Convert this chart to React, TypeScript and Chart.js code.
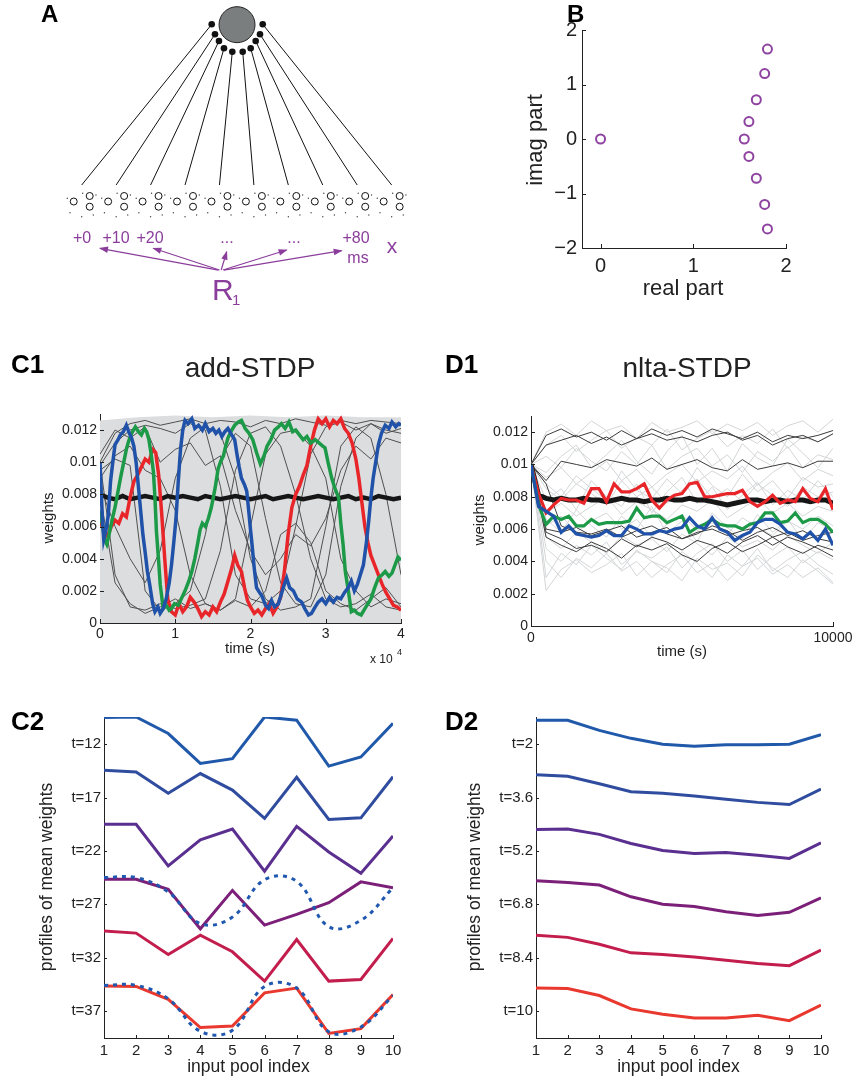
import React, { useEffect, useRef } from 'react';
import { Chart, registerables } from 'chart.js';
Chart.register(...registerables);

const FONT = '"Liberation Sans", Arial, Helvetica, sans-serif';
Chart.defaults.font.family = FONT;

const PAGE_W = 855;
const PAGE_H = 1080;
const YW = 60;
const XH = 40;

type Pt = [number, number];

// ---------------- Panel A (diagram) data, in pool-spacing units ----------------
const poolIndex = [0, 1, 2, 3, 4, 5, 6, 7, 8, 9];
const poolTopY = 0.479;
const neuronPos: Pt = [4.51, 5.134];
const synapseX = [3.775, 3.87, 3.986, 4.131, 4.373, 4.675, 4.907, 5.052, 5.177, 5.256];
const synapseY = [5.145, 4.855, 4.66, 4.448, 4.35, 4.35, 4.448, 4.66, 4.855, 5.145];
const poolCircleDX = [-0.232, 0.232, 0.232];
const poolCircleDY = [0.0, 0.16, -0.151];
const poolSpeckDX = [-0.418, 0.029, 0.415, -0.34, 0.0, 0.337];
const poolSpeckDY = [0.093, 0.238, 0.189, -0.325, -0.441, -0.392];
const arrowFromX = [3.97, 4.0, 4.05, 4.1, 4.13];
const arrowFromY = [-1.99, -1.99, -1.99, -1.99, -1.99];
const arrowToX = [0.531, 2.079, 4.21, 5.952, 7.549];
const arrowToY = [-1.359, -1.359, -1.458, -1.408, -1.429];

// ---------------- Panel B ----------------
const bReal = [0, 1.8, 1.77, 1.68, 1.6, 1.55, 1.6, 1.68, 1.77, 1.8];
const bImag = [0, 1.65, 1.2, 0.72, 0.32, 0, -0.32, -0.72, -1.2, -1.65];
const bXTicks = [0, 1, 2];
const bYTicks = [-2, -1, 0, 1, 2];

// ---------------- Panel C1 (add-STDP), time in units of 1e4 s ----------------
const c1XTicks = [0, 1, 2, 3, 4];
const c1YTicks = [0, 0.002, 0.004, 0.006, 0.008, 0.01, 0.012];
const c1Blue: Pt[] = [[0,0.0100],[0.03,0.0067],[0.05,0.0052],[0.08,0.0058],[0.11,0.0067],[0.14,0.0088],[0.17,0.0100],[0.2,0.0111],[0.24,0.0114],[0.27,0.0117],[0.31,0.0119],[0.35,0.0123],[0.39,0.0118],[0.42,0.0115],[0.45,0.0110],[0.48,0.0100],[0.51,0.0085],[0.54,0.0070],[0.57,0.0055],[0.6,0.0044],[0.63,0.0032],[0.66,0.0024],[0.7,0.0012],[0.73,0.0007],[0.77,0.0010],[0.8,0.0006],[0.84,0.0009],[0.88,0.0015],[0.92,0.0025],[0.95,0.0036],[0.98,0.0050],[1.01,0.0065],[1.04,0.0088],[1.07,0.0108],[1.1,0.0120],[1.13,0.0126],[1.17,0.0124],[1.22,0.0127],[1.26,0.0121],[1.31,0.0123],[1.36,0.0120],[1.4,0.0124],[1.45,0.0119],[1.5,0.0121],[1.54,0.0118],[1.58,0.0120],[1.62,0.0116],[1.66,0.0119],[1.7,0.0121],[1.75,0.0117],[1.79,0.0114],[1.82,0.0105],[1.85,0.0097],[1.88,0.0090],[1.92,0.0086],[1.95,0.0082],[1.98,0.0068],[2.0,0.0058],[2.02,0.0049],[2.05,0.0034],[2.08,0.0022],[2.12,0.0019],[2.15,0.0017],[2.2,0.0011],[2.24,0.0009],[2.28,0.0014],[2.32,0.0010],[2.37,0.0012],[2.41,0.0018],[2.45,0.0024],[2.48,0.0028],[2.52,0.0022],[2.57,0.0020],[2.62,0.0015],[2.68,0.0013],[2.72,0.0009],[2.77,0.0005],[2.81,0.0006],[2.86,0.0010],[2.9,0.0013],[2.95,0.0015],[3.0,0.0012],[3.05,0.0016],[3.1,0.0013],[3.15,0.0016],[3.2,0.0015],[3.25,0.0019],[3.3,0.0022],[3.34,0.0026],[3.38,0.0020],[3.42,0.0024],[3.46,0.0030],[3.5,0.0036],[3.54,0.0050],[3.57,0.0063],[3.6,0.0078],[3.63,0.0090],[3.67,0.0102],[3.7,0.0111],[3.74,0.0118],[3.79,0.0123],[3.84,0.0121],[3.88,0.0125],[3.93,0.0122],[3.97,0.0124],[4.0,0.0123]];
const c1Green: Pt[] = [[0,0.0070],[0.03,0.0062],[0.06,0.0052],[0.09,0.0049],[0.12,0.0055],[0.16,0.0064],[0.2,0.0072],[0.24,0.0082],[0.28,0.0092],[0.32,0.0101],[0.35,0.0108],[0.38,0.0113],[0.42,0.0118],[0.47,0.0122],[0.51,0.0119],[0.55,0.0117],[0.59,0.0121],[0.62,0.0119],[0.65,0.0114],[0.68,0.0105],[0.71,0.0094],[0.73,0.0078],[0.75,0.0057],[0.78,0.0038],[0.8,0.0024],[0.84,0.0009],[0.88,0.0011],[0.92,0.0008],[0.95,0.0009],[0.99,0.0012],[1.04,0.0011],[1.09,0.0016],[1.13,0.0020],[1.18,0.0026],[1.22,0.0032],[1.26,0.0040],[1.3,0.0050],[1.33,0.0058],[1.36,0.0062],[1.4,0.0060],[1.44,0.0065],[1.48,0.0072],[1.53,0.0084],[1.57,0.0096],[1.6,0.0100],[1.64,0.0104],[1.67,0.0110],[1.7,0.0115],[1.74,0.0119],[1.79,0.0123],[1.84,0.0125],[1.88,0.0126],[1.93,0.0121],[1.98,0.0118],[2.03,0.0114],[2.08,0.0106],[2.13,0.0099],[2.18,0.0104],[2.22,0.0110],[2.27,0.0114],[2.32,0.0120],[2.37,0.0122],[2.41,0.0124],[2.46,0.0121],[2.51,0.0125],[2.56,0.0119],[2.6,0.0120],[2.65,0.0117],[2.7,0.0114],[2.75,0.0116],[2.8,0.0112],[2.86,0.0114],[2.91,0.0112],[2.96,0.0110],[2.99,0.0109],[3.03,0.0100],[3.08,0.0090],[3.12,0.0084],[3.17,0.0078],[3.2,0.0062],[3.23,0.0049],[3.26,0.0032],[3.3,0.0020],[3.34,0.0007],[3.38,0.0008],[3.42,0.0006],[3.47,0.0005],[3.52,0.0009],[3.56,0.0012],[3.6,0.0015],[3.65,0.0022],[3.7,0.0028],[3.75,0.0030],[3.79,0.0032],[3.84,0.0029],[3.88,0.0031],[3.92,0.0036],[3.96,0.0041],[4.0,0.0039]];
const c1Red: Pt[] = [[0,0.0063],[0.05,0.0058],[0.1,0.0054],[0.15,0.0060],[0.2,0.0064],[0.25,0.0062],[0.3,0.0068],[0.35,0.0066],[0.4,0.0078],[0.45,0.0088],[0.5,0.0092],[0.55,0.0097],[0.6,0.0102],[0.65,0.0100],[0.7,0.0108],[0.74,0.0106],[0.78,0.0092],[0.82,0.0068],[0.86,0.0040],[0.9,0.0015],[0.95,0.0007],[1.0,0.0005],[1.05,0.0012],[1.1,0.0007],[1.15,0.0010],[1.2,0.0016],[1.25,0.0013],[1.3,0.0009],[1.35,0.0004],[1.4,0.0007],[1.45,0.0005],[1.5,0.0010],[1.55,0.0007],[1.6,0.0013],[1.65,0.0018],[1.7,0.0026],[1.75,0.0034],[1.79,0.0042],[1.83,0.0036],[1.88,0.0032],[1.92,0.0022],[1.96,0.0014],[2.0,0.0010],[2.05,0.0006],[2.1,0.0008],[2.15,0.0005],[2.2,0.0009],[2.25,0.0012],[2.3,0.0006],[2.35,0.0010],[2.4,0.0016],[2.45,0.0032],[2.5,0.0055],[2.55,0.0072],[2.6,0.0080],[2.65,0.0085],[2.7,0.0092],[2.75,0.0098],[2.8,0.0110],[2.85,0.0120],[2.9,0.0127],[2.95,0.0124],[3.0,0.0127],[3.05,0.0122],[3.1,0.0126],[3.15,0.0124],[3.2,0.0127],[3.25,0.0121],[3.3,0.0118],[3.35,0.0112],[3.4,0.0102],[3.44,0.0090],[3.48,0.0075],[3.52,0.0060],[3.56,0.0050],[3.6,0.0042],[3.65,0.0036],[3.7,0.0030],[3.75,0.0024],[3.8,0.0019],[3.85,0.0015],[3.9,0.0011],[3.95,0.0010],[4.0,0.0008]];
const c1BlackT = [0,0.1,0.2,0.3,0.4,0.5,0.6,0.7,0.8,0.9,1.0,1.1,1.2,1.3,1.4,1.5,1.6,1.7,1.8,1.9,2.0,2.1,2.2,2.3,2.4,2.5,2.6,2.7,2.8,2.9,3.0,3.1,3.2,3.3,3.4,3.5,3.6,3.7,3.8,3.9,4.0];
const c1Black = [0.0080,0.0078,0.0077,0.0079,0.0077,0.0078,0.0079,0.0078,0.0077,0.0079,0.0078,0.0079,0.0078,0.0077,0.0079,0.0078,0.0077,0.0078,0.0079,0.0078,0.0077,0.0078,0.0079,0.0077,0.0078,0.0079,0.0078,0.0077,0.0078,0.0079,0.0078,0.0077,0.0078,0.0079,0.0077,0.0078,0.0077,0.0079,0.0078,0.0077,0.0078];
const c1GrayT = [0,0.2,0.4,0.6,0.8,1.0,1.2,1.4,1.6,1.8,2.0,2.2,2.4,2.6,2.8,3.0,3.2,3.4,3.6,3.8,4.0];
const c1Dark1 = [0.0100,0.0118,0.0124,0.0126,0.0123,0.0125,0.0127,0.0124,0.0126,0.0125,0.0122,0.0126,0.0124,0.0127,0.0125,0.0123,0.0126,0.0124,0.0126,0.0125,0.0124];
const c1Dark2 = [0.0098,0.0112,0.0120,0.0123,0.0121,0.0118,0.0124,0.0120,0.0085,0.0030,0.0015,0.0012,0.0020,0.0060,0.0105,0.0122,0.0125,0.0120,0.0124,0.0118,0.0121];
const c1Dark3 = [0.0100,0.0030,0.0010,0.0008,0.0012,0.0009,0.0011,0.0015,0.0045,0.0095,0.0118,0.0122,0.0110,0.0080,0.0040,0.0015,0.0010,0.0012,0.0018,0.0010,0.0008];
const c1Dark4 = [0.0095,0.0102,0.0098,0.0020,0.0008,0.0012,0.0020,0.0055,0.0102,0.0118,0.0110,0.0065,0.0025,0.0012,0.0010,0.0030,0.0085,0.0115,0.0124,0.0120,0.0118];
const c1Dark5 = [0.0090,0.0104,0.0110,0.0095,0.0090,0.0070,0.0030,0.0012,0.0008,0.0015,0.0060,0.0105,0.0118,0.0120,0.0110,0.0090,0.0040,0.0020,0.0010,0.0015,0.0012];
const c1Dark6 = [0.0080,0.0025,0.0012,0.0006,0.0010,0.0015,0.0009,0.0012,0.0008,0.0014,0.0010,0.0020,0.0055,0.0062,0.0050,0.0020,0.0012,0.0008,0.0015,0.0022,0.0010];
const c1Dark7 = [0.0105,0.0120,0.0115,0.0122,0.0100,0.0108,0.0112,0.0098,0.0104,0.0070,0.0045,0.0030,0.0040,0.0055,0.0048,0.0065,0.0095,0.0110,0.0102,0.0115,0.0112];
const c1Dark8 = [0.0085,0.0060,0.0040,0.0025,0.0045,0.0090,0.0115,0.0122,0.0118,0.0090,0.0040,0.0015,0.0008,0.0010,0.0015,0.0060,0.0110,0.0122,0.0115,0.0080,0.0030];
const c1BandT = [0, 0.5, 1, 1.5, 2, 2.5, 3, 3.5, 4];
const c1BandTop = [0.0126, 0.0128, 0.0129, 0.0128, 0.0129, 0.0128, 0.0129, 0.0128, 0.0128];

// ---------------- Panel D1 (nlta-STDP) ----------------
const d1XTicks = [0, 10000];
const d1YTicks = [0, 0.002, 0.004, 0.006, 0.008, 0.01, 0.012];
const d1T = [0,250,500,750,1000,1250,1500,1750,2000,2250,2500,2750,3000,3250,3500,3750,4000,4250,4500,4750,5000,5250,5500,5750,6000,6250,6500,6750,7000,7250,7500,7750,8000,8250,8500,8750,9000,9250,9500,9750,10000];
const d1Red = [0.0100,0.0082,0.0070,0.0075,0.0079,0.0078,0.0078,0.0076,0.0085,0.0085,0.0077,0.0088,0.0083,0.0083,0.0085,0.0088,0.0078,0.0073,0.0078,0.0081,0.0082,0.0088,0.0089,0.0080,0.0080,0.0081,0.0082,0.0082,0.0084,0.0077,0.0074,0.0077,0.0081,0.0076,0.0078,0.0077,0.0085,0.0079,0.0077,0.0085,0.0072];
const d1Green = [0.0100,0.0075,0.0063,0.0068,0.0066,0.0068,0.0062,0.0062,0.0066,0.0063,0.0064,0.0064,0.0064,0.0065,0.0073,0.0067,0.0068,0.0068,0.0064,0.0066,0.0068,0.0058,0.0061,0.0063,0.0066,0.0063,0.0062,0.0062,0.0060,0.0063,0.0064,0.0070,0.0070,0.0064,0.0065,0.0070,0.0064,0.0066,0.0066,0.0063,0.0058];
const d1Blue = [0.0100,0.0074,0.0071,0.0068,0.0058,0.0062,0.0057,0.0056,0.0055,0.0056,0.0059,0.0056,0.0056,0.0062,0.0060,0.0057,0.0057,0.0059,0.0058,0.0060,0.0061,0.0067,0.0062,0.0060,0.0067,0.0060,0.0058,0.0053,0.0056,0.0058,0.0064,0.0066,0.0066,0.0063,0.0058,0.0057,0.0054,0.0058,0.0053,0.0060,0.0050];
const d1Black = [0.0100,0.0081,0.0079,0.0078,0.0079,0.0078,0.0078,0.0079,0.0078,0.0078,0.0077,0.0078,0.0079,0.0078,0.0078,0.0077,0.0078,0.0078,0.0079,0.0078,0.0078,0.0079,0.0078,0.0078,0.0077,0.0076,0.0075,0.0076,0.0077,0.0078,0.0078,0.0077,0.0078,0.0078,0.0077,0.0078,0.0078,0.0077,0.0078,0.0078,0.0076];
const d1GrayT = [0,500,1000,1500,2000,2500,3000,3500,4000,4500,5000,5500,6000,6500,7000,7500,8000,8500,9000,9500,10000];
const d1Dark = [
  [0.010,0.0118,0.0122,0.0117,0.0120,0.0115,0.0121,0.0116,0.0122,0.0118,0.0121,0.0117,0.0122,0.0119,0.0116,0.0120,0.0114,0.0118,0.0116,0.0118,0.0121],
  [0.010,0.0112,0.0115,0.0118,0.0113,0.0117,0.0112,0.0116,0.0119,0.0115,0.0117,0.0114,0.0118,0.0120,0.0115,0.0118,0.0112,0.0116,0.0118,0.0114,0.0119],
  [0.010,0.0090,0.0102,0.0100,0.0098,0.0103,0.0101,0.0099,0.0104,0.0097,0.0100,0.0103,0.0098,0.0096,0.0103,0.0097,0.0099,0.0101,0.0098,0.0102,0.0102],
  [0.010,0.0058,0.0054,0.0048,0.0050,0.0046,0.0054,0.0049,0.0055,0.0052,0.0047,0.0053,0.0050,0.0045,0.0052,0.0056,0.0050,0.0055,0.0052,0.0048,0.0043],
  [0.010,0.0060,0.0058,0.0061,0.0056,0.0059,0.0062,0.0055,0.0058,0.0061,0.0054,0.0057,0.0062,0.0059,0.0053,0.0058,0.0061,0.0056,0.0059,0.0054,0.0052],
  [0.010,0.0055,0.0050,0.0046,0.0052,0.0048,0.0042,0.0050,0.0047,0.0051,0.0044,0.0040,0.0048,0.0052,0.0046,0.0050,0.0055,0.0049,0.0045,0.0050,0.0047],
  [0.010,0.0088,0.0062,0.0058,0.0057,0.0060,0.0055,0.0059,0.0062,0.0057,0.0054,0.0058,0.0060,0.0056,0.0059,0.0061,0.0055,0.0058,0.0053,0.0056,0.0058],
];
const d1Light = [
  [0.010,0.0120,0.0125,0.0118,0.0127,0.0121,0.0124,0.0116,0.0126,0.0120,0.0123,0.0127,0.0119,0.0125,0.0121,0.0126,0.0118,0.0124,0.0127,0.0120,0.0128],
  [0.010,0.0112,0.0118,0.0108,0.0115,0.0121,0.0110,0.0117,0.0112,0.0122,0.0109,0.0116,0.0121,0.0111,0.0118,0.0113,0.0122,0.0110,0.0117,0.0114,0.0119],
  [0.010,0.0105,0.0098,0.0110,0.0102,0.0096,0.0108,0.0100,0.0112,0.0097,0.0105,0.0110,0.0099,0.0106,0.0095,0.0108,0.0102,0.0111,0.0098,0.0106,0.0103],
  [0.010,0.0092,0.0098,0.0088,0.0095,0.0102,0.0090,0.0097,0.0086,0.0094,0.0100,0.0089,0.0096,0.0091,0.0099,0.0087,0.0095,0.0101,0.0090,0.0097,0.0093],
  [0.010,0.0085,0.0078,0.0088,0.0082,0.0075,0.0090,0.0080,0.0086,0.0076,0.0084,0.0091,0.0079,0.0085,0.0077,0.0088,0.0081,0.0074,0.0086,0.0080,0.0083],
  [0.010,0.0070,0.0076,0.0068,0.0074,0.0080,0.0069,0.0077,0.0072,0.0066,0.0075,0.0071,0.0078,0.0067,0.0073,0.0079,0.0070,0.0076,0.0068,0.0074,0.0071],
  [0.010,0.0062,0.0068,0.0058,0.0065,0.0070,0.0060,0.0066,0.0055,0.0063,0.0069,0.0059,0.0064,0.0057,0.0067,0.0061,0.0056,0.0065,0.0060,0.0068,0.0062],
  [0.010,0.0055,0.0048,0.0058,0.0052,0.0045,0.0056,0.0050,0.0054,0.0046,0.0057,0.0051,0.0044,0.0055,0.0049,0.0053,0.0047,0.0056,0.0050,0.0045,0.0052],
  [0.010,0.0048,0.0040,0.0050,0.0044,0.0052,0.0038,0.0046,0.0042,0.0049,0.0036,0.0045,0.0051,0.0040,0.0047,0.0035,0.0043,0.0049,0.0039,0.0046,0.0041],
  [0.010,0.0040,0.0030,0.0042,0.0036,0.0045,0.0034,0.0040,0.0030,0.0038,0.0044,0.0033,0.0039,0.0028,0.0037,0.0042,0.0032,0.0038,0.0030,0.0036,0.0027],
  [0.010,0.0030,0.0045,0.0038,0.0050,0.0042,0.0035,0.0047,0.0040,0.0033,0.0046,0.0039,0.0030,0.0044,0.0037,0.0048,0.0034,0.0041,0.0046,0.0038,0.0032],
  [0.010,0.0078,0.0085,0.0072,0.0090,0.0080,0.0074,0.0088,0.0070,0.0083,0.0092,0.0076,0.0086,0.0072,0.0081,0.0089,0.0075,0.0084,0.0078,0.0090,0.0080],
  [0.010,0.0095,0.0105,0.0112,0.0098,0.0106,0.0115,0.0102,0.0094,0.0108,0.0118,0.0100,0.0110,0.0096,0.0113,0.0104,0.0099,0.0116,0.0107,0.0098,0.0110],
  [0.010,0.0066,0.0058,0.0072,0.0062,0.0055,0.0068,0.0060,0.0074,0.0057,0.0065,0.0052,0.0070,0.0061,0.0054,0.0069,0.0058,0.0066,0.0053,0.0064,0.0059],
  [0.010,0.0088,0.0080,0.0093,0.0085,0.0078,0.0096,0.0084,0.0079,0.0091,0.0082,0.0098,0.0087,0.0080,0.0094,0.0083,0.0090,0.0079,0.0092,0.0086,0.0088],
  [0.010,0.0022,0.0035,0.0041,0.0033,0.0038,0.0045,0.0031,0.0040,0.0036,0.0028,0.0042,0.0035,0.0039,0.0031,0.0044,0.0036,0.0030,0.0041,0.0034,0.0026],
];

// ---------------- Panels C2 / D2 (profiles, stacked with offsets) ----------------
const poolIdx = [1, 2, 3, 4, 5, 6, 7, 8, 9, 10];
const profileTickPos = [0, 1, 2, 3, 4, 5];
const c2TickLabels = ['t=37', 't=32', 't=27', 't=22', 't=17', 't=12'];
const d2TickLabels = ['t=10', 't=8.4', 't=6.8', 't=5.2', 't=3.6', 't=2'];
const profileColors = ['#2058aa', '#2f4c9f', '#5a2f90', '#7b1f78', '#c21d4c', '#e9382e'];
const c2Profiles = [
  [5.5, 5.51, 5.2, 4.64, 4.73, 5.51, 5.45, 4.59, 4.76, 5.39],
  [4.51, 4.48, 4.08, 4.45, 4.14, 3.61, 4.38, 3.59, 3.62, 4.39],
  [3.5, 3.5, 2.72, 3.21, 3.41, 2.62, 3.46, 2.98, 2.58, 3.28],
  [2.47, 2.47, 2.28, 1.54, 2.26, 1.61, 1.81, 2.03, 2.42, 2.31],
  [1.5, 1.46, 1.06, 1.42, 1.11, 0.56, 1.34, 0.56, 0.59, 1.36],
  [0.47, 0.46, 0.22, -0.31, -0.28, 0.34, 0.43, -0.42, -0.33, 0.31],
];
const c2Dotted27 = [2.5, 2.5, 2.23, 1.64, 1.76, 2.46, 2.43, 1.58, 1.7, 2.31];
const c2Dotted37 = [0.48, 0.48, 0.23, -0.38, -0.36, 0.46, 0.43, -0.39, -0.3, 0.29];
const d2Profiles = [
  [5.45, 5.45, 5.26, 5.11, 5.0, 4.96, 4.99, 4.99, 5.0, 5.18],
  [4.43, 4.4, 4.26, 4.11, 4.08, 4.03, 3.97, 3.91, 3.87, 4.16],
  [3.4, 3.41, 3.31, 3.14, 3.01, 2.95, 2.97, 2.92, 2.86, 3.15],
  [2.44, 2.41, 2.36, 2.14, 2.0, 1.96, 1.86, 1.79, 1.85, 2.12],
  [1.42, 1.38, 1.25, 1.09, 1.06, 1.01, 0.95, 0.89, 0.85, 1.14],
  [0.43, 0.42, 0.29, 0.04, -0.06, -0.13, -0.13, -0.08, -0.18, 0.11],
];

// ---------------- helpers ----------------
type Area = { left: number; top: number; right: number; bottom: number };
const padFor = (a: Area, axes = true) =>
  axes
    ? { left: a.left - YW, top: a.top, right: PAGE_W - a.right, bottom: PAGE_H - a.bottom - XH }
    : { left: a.left, top: a.top, right: PAGE_W - a.right, bottom: PAGE_H - a.bottom };

const zipXY = (xs: number[], ys: number[]) => xs.map((x, i) => ({ x, y: ys[i] }));
const pairsXY = (p: Pt[]) => p.map(([x, y]) => ({ x, y }));

const lineDs = (data: any[], color: string, width: number, extra: any = {}) => ({
  data,
  showLine: true,
  borderColor: color,
  backgroundColor: color,
  borderWidth: width,
  pointRadius: 0,
  pointHoverRadius: 0,
  fill: false,
  tension: 0,
  ...extra,
});

const minusFmt = (v: number) => (v < 0 ? '\u2212' + Math.abs(v) : String(v));
const decFmt = (v: number) => String(parseFloat(Number(v).toFixed(4)));

function axisX(min: number, max: number, ticks: number[], size: number, pad: number, fmt: (v: number, i: number) => string) {
  return {
    type: 'linear', position: 'bottom', min, max,
    grid: { display: false, drawTicks: false },
    border: { display: true, color: '#222', width: 1 },
    ticks: { font: { size, family: FONT }, color: '#222', padding: pad, maxRotation: 0, minRotation: 0, autoSkip: false, callback: (v: any, i: number) => fmt(Number(v), i) },
    afterBuildTicks: (s: any) => { s.ticks = ticks.map((value) => ({ value })); },
    afterFit: (s: any) => { s.height = XH; s.paddingLeft = 0; s.paddingRight = 0; s.paddingTop = 0; s.paddingBottom = 0; },
  };
}
function axisY(min: number, max: number, ticks: number[], size: number, pad: number, fmt: (v: number, i: number) => string) {
  return {
    type: 'linear', position: 'left', min, max,
    grid: { display: false, drawTicks: false },
    border: { display: true, color: '#222', width: 1 },
    ticks: { font: { size, family: FONT }, color: '#222', padding: pad, autoSkip: false, callback: (v: any, i: number) => fmt(Number(v), i) },
    afterBuildTicks: (s: any) => { s.ticks = ticks.map((value) => ({ value })); },
    afterFit: (s: any) => { s.width = YW; s.paddingLeft = 0; s.paddingRight = 0; s.paddingTop = 0; s.paddingBottom = 0; },
  };
}

type TextItem = { t: string; x: number; y: number; size: number; bold?: boolean; color?: string; align?: CanvasTextAlign; base?: CanvasTextBaseline; rot?: number };
const textPlugin = (items: TextItem[]) => ({
  id: 'texts',
  afterDraw(chart: any) {
    const ctx = chart.ctx as CanvasRenderingContext2D;
    for (const it of items) {
      ctx.save();
      ctx.translate(it.x, it.y);
      if (it.rot) ctx.rotate(it.rot);
      ctx.font = `${it.bold ? 'bold ' : ''}${it.size}px ${FONT}`;
      ctx.fillStyle = it.color || '#111';
      ctx.textAlign = it.align || 'center';
      ctx.textBaseline = it.base || 'alphabetic';
      ctx.fillText(it.t, 0, 0);
      ctx.restore();
    }
  },
});

const inTicks = (len: number) => ({
  id: 'inTicks',
  afterDraw(chart: any) {
    const { ctx, chartArea } = chart;
    ctx.save();
    ctx.strokeStyle = '#222';
    ctx.lineWidth = 1;
    for (const id of ['x', 'y']) {
      const s = chart.scales[id];
      if (!s) continue;
      for (const t of s.ticks) {
        const p = Math.round(s.getPixelForValue(t.value)) + 0.5;
        ctx.beginPath();
        if (id === 'x') { ctx.moveTo(p, chartArea.bottom); ctx.lineTo(p, chartArea.bottom - len); }
        else { ctx.moveTo(chartArea.left, p); ctx.lineTo(chartArea.left + len, p); }
        ctx.stroke();
      }
    }
    ctx.restore();
  },
});

const arrowHeads = {
  id: 'arrowHeads',
  afterDatasetsDraw(chart: any) {
    const ctx = chart.ctx as CanvasRenderingContext2D;
    chart.data.datasets.forEach((ds: any, i: number) => {
      if (!ds.arrow) return;
      const pts = chart.getDatasetMeta(i).data;
      const a = pts[pts.length - 2], b = pts[pts.length - 1];
      const ang = Math.atan2(b.y - a.y, b.x - a.x);
      ctx.save();
      ctx.translate(b.x, b.y);
      ctx.rotate(ang);
      ctx.beginPath();
      ctx.moveTo(1, 0);
      ctx.lineTo(-8, -3.2);
      ctx.lineTo(-8, 3.2);
      ctx.closePath();
      ctx.fillStyle = ds.borderColor;
      ctx.fill();
      ctx.restore();
    });
  },
};

const baseOptions = (padding: any, scales: any) => ({
  responsive: false,
  animation: false,
  events: [],
  layout: { padding, autoPadding: false },
  plugins: { legend: { display: false }, tooltip: { enabled: false }, title: { display: false } },
  scales,
});

const PURPLE = '#8b3d9c';

// ---------------- chart configs ----------------
function cfgA() {
  const area: Area = { left: 0, top: 0, right: 430, bottom: 300 };
  const unit = 34.44;
  const xMin = -81.7 / unit;
  const yMax = 201.5 / unit;
  const datasets: any[] = [];
  datasets.push({ data: [{ x: neuronPos[0], y: neuronPos[1] }], pointRadius: 18, backgroundColor: '#7b7e7f', borderColor: '#222', borderWidth: 1 });
  datasets.push({ data: zipXY(synapseX, synapseY), pointRadius: 3.3, backgroundColor: '#111', borderColor: '#111', borderWidth: 0 });
  const circles: any[] = [];
  const specks: any[] = [];
  poolIndex.forEach((p) => {
    poolCircleDX.forEach((dx, k) => circles.push({ x: p + dx, y: poolCircleDY[k] }));
    poolSpeckDX.forEach((dx, k) => specks.push({ x: p + dx, y: poolSpeckDY[k] }));
  });
  datasets.push({ data: circles, pointRadius: 3.5, backgroundColor: '#fff', borderColor: '#111', borderWidth: 1 });
  datasets.push({ data: specks, pointRadius: 0.7, backgroundColor: '#444', borderColor: '#444', borderWidth: 0 });
  poolIndex.forEach((p, i) => {
    datasets.push(lineDs([{ x: synapseX[i], y: synapseY[i] }, { x: p, y: poolTopY }], '#111', 1));
  });
  arrowToX.forEach((tx, i) => {
    datasets.push({ ...lineDs([{ x: arrowFromX[i], y: arrowFromY[i] }, { x: tx, y: arrowToY[i] }], PURPLE, 1.2), arrow: true });
  });
  const texts: TextItem[] = [
    { t: 'A', x: 41, y: 22, size: 24, bold: true, align: 'left', color: '#000' },
    { t: '+0', x: 82, y: 243, size: 16, color: PURPLE },
    { t: '+10', x: 116, y: 243, size: 16, color: PURPLE },
    { t: '+20', x: 150, y: 243, size: 16, color: PURPLE },
    { t: '...', x: 227, y: 243, size: 16, color: PURPLE },
    { t: '...', x: 294, y: 243, size: 16, color: PURPLE },
    { t: '+80', x: 356, y: 243, size: 16, color: PURPLE },
    { t: 'x', x: 392, y: 253, size: 21, color: PURPLE },
    { t: 'ms', x: 358, y: 263, size: 16, color: PURPLE },
    { t: 'R', x: 212, y: 300, size: 30, align: 'left', color: PURPLE },
    { t: '1', x: 232, y: 305, size: 15, align: 'left', color: PURPLE },
  ];
  return {
    type: 'scatter',
    data: { datasets },
    options: baseOptions(padFor(area, false), {
      x: { type: 'linear', display: false, min: xMin, max: xMin + 430 / unit },
      y: { type: 'linear', display: false, min: yMax - 300 / unit, max: yMax },
    }),
    plugins: [arrowHeads, textPlugin(texts)],
  };
}

function cfgB() {
  const area: Area = { left: 582, top: 30, right: 786, bottom: 248 };
  const texts: TextItem[] = [
    { t: 'B', x: 567, y: 22, size: 24, bold: true, align: 'left', color: '#000' },
    { t: 'imag part', x: 536, y: 140, size: 22, rot: -Math.PI / 2, base: 'middle', color: '#222' },
    { t: 'real part', x: 683, y: 295, size: 22, color: '#222' },
  ];
  return {
    type: 'scatter',
    data: { datasets: [{ data: zipXY(bReal, bImag), pointRadius: 4.5, borderWidth: 2, borderColor: '#8e44a0', backgroundColor: 'rgba(0,0,0,0)' }] },
    options: baseOptions(padFor(area), {
      x: axisX(-0.2, 2, bXTicks, 20, 6, minusFmt),
      y: axisY(-2, 2, bYTicks, 20, 5, minusFmt),
    }),
    plugins: [inTicks(4), textPlugin(texts)],
  };
}

function cfgC1() {
  const area: Area = { left: 100, top: 414, right: 401, bottom: 623 };
  const darks = [c1Dark1, c1Dark2, c1Dark3, c1Dark4, c1Dark5, c1Dark6, c1Dark7, c1Dark8];
  const datasets: any[] = [
    lineDs(pairsXY(c1Blue), '#1f52a8', 3.5),
    lineDs(pairsXY(c1Green), '#1d9a48', 3.5),
    lineDs(pairsXY(c1Red), '#e8262a', 3.5),
    lineDs(zipXY(c1BlackT, c1Black), '#161616', 4.5),
    ...darks.map((d) => lineDs(zipXY(c1GrayT, d), '#505050', 1)),
    lineDs(zipXY(c1BandT, c1BandTop), '#dcdddf', 0, { fill: 'origin', backgroundColor: '#dcdddf' }),
  ];
  const texts: TextItem[] = [
    { t: 'C1', x: 11, y: 373, size: 26, bold: true, align: 'left', color: '#000' },
    { t: 'add-STDP', x: 250, y: 377, size: 28, color: '#222' },
    { t: 'weights', x: 49, y: 518, size: 15, rot: -Math.PI / 2, base: 'middle', color: '#222' },
    { t: 'time (s)', x: 250, y: 653, size: 15, color: '#222' },
    { t: 'x 10', x: 370, y: 663, size: 12, align: 'left', color: '#222' },
    { t: '4', x: 397, y: 655, size: 9, align: 'left', color: '#222' },
  ];
  return {
    type: 'scatter',
    data: { datasets },
    options: baseOptions(padFor(area), {
      x: axisX(0, 4, c1XTicks, 14, 3, (v) => String(v)),
      y: axisY(0, 0.013, c1YTicks, 14, 3, decFmt),
    }),
    plugins: [inTicks(4), textPlugin(texts)],
  };
}

function cfgD1() {
  const area: Area = { left: 531, top: 416, right: 833, bottom: 626 };
  const datasets: any[] = [
    lineDs(zipXY(d1T, d1Blue), '#1f52a8', 3.2),
    lineDs(zipXY(d1T, d1Green), '#1d9a48', 3.2),
    lineDs(zipXY(d1T, d1Red), '#e8262a', 3.2),
    lineDs(zipXY(d1T, d1Black), '#161616', 5),
    ...d1Dark.map((d) => lineDs(zipXY(d1GrayT, d), '#3c3c3c', 1)),
    ...d1Light.map((d) => lineDs(zipXY(d1GrayT, d), '#d3d5d7', 1)),
  ];
  const texts: TextItem[] = [
    { t: 'D1', x: 445, y: 373, size: 26, bold: true, align: 'left', color: '#000' },
    { t: 'nlta-STDP', x: 687, y: 377, size: 28, color: '#222' },
    { t: 'weights', x: 480, y: 520, size: 15, rot: -Math.PI / 2, base: 'middle', color: '#222' },
    { t: 'time (s)', x: 682, y: 656, size: 15, color: '#222' },
  ];
  return {
    type: 'scatter',
    data: { datasets },
    options: baseOptions(padFor(area), {
      x: axisX(0, 10000, d1XTicks, 14, 4, (v) => String(v)),
      y: axisY(0, 0.013, d1YTicks, 14, 3, decFmt),
    }),
    plugins: [inTicks(4), textPlugin(texts)],
  };
}

function cfgProfiles(area: Area, profiles: number[][], labels: string[], label: string, labelX: number, yTitleX: number, dotted: number[][]) {
  const datasets: any[] = [
    ...dotted.map((d) => lineDs(zipXY(poolIdx, d), '#2058b0', 3, { borderDash: [4, 5], tension: 0.4 })),
    ...profiles.map((p, i) => lineDs(zipXY(poolIdx, p), profileColors[i], 3)),
  ];
  const midX = (area.left + area.right) / 2;
  const texts: TextItem[] = [
    { t: label, x: labelX, y: 730, size: 26, bold: true, align: 'left', color: '#000' },
    { t: 'profiles of mean weights', x: yTitleX, y: 877, size: 17.5, rot: -Math.PI / 2, base: 'middle', color: '#222' },
    { t: 'input pool index', x: midX, y: 1072, size: 17.5, color: '#222' },
  ];
  return {
    type: 'scatter',
    data: { datasets },
    options: baseOptions(padFor(area), {
      x: axisX(1, 10, poolIdx, 15, 4, (v) => String(v)),
      y: axisY(-0.506, 5.51, profileTickPos, 15, 3, (_v, i) => labels[i]),
    }),
    plugins: [inTicks(3), textPlugin(texts)],
  };
}

export default function App() {
  const r0 = useRef<HTMLCanvasElement>(null);
  const r1 = useRef<HTMLCanvasElement>(null);
  const r2 = useRef<HTMLCanvasElement>(null);
  const r3 = useRef<HTMLCanvasElement>(null);
  const r4 = useRef<HTMLCanvasElement>(null);
  const r5 = useRef<HTMLCanvasElement>(null);
  const refs = [r0, r1, r2, r3, r4, r5];
  useEffect(() => {
    const configs: any[] = [
      cfgA(),
      cfgB(),
      cfgC1(),
      cfgD1(),
      cfgProfiles({ left: 104, top: 717, right: 393, bottom: 1038 }, c2Profiles, c2TickLabels, 'C2', 11, 47, [c2Dotted27, c2Dotted37]),
      cfgProfiles({ left: 536, top: 717, right: 821, bottom: 1038 }, d2Profiles, d2TickLabels, 'D2', 445, 475, []),
    ];
    const charts = configs.map((c, i) => new Chart(refs[i].current as HTMLCanvasElement, c));
    return () => charts.forEach((ch) => ch.destroy());
  }, []);
  return (
    <div style={{ position: 'absolute', left: 0, top: 0, width: PAGE_W, height: PAGE_H, background: '#fff', overflow: 'hidden' }}>
      {refs.map((r, i) => (
        <canvas key={i} ref={r} width={PAGE_W} height={PAGE_H} style={{ position: 'absolute', left: 0, top: 0 }} />
      ))}
    </div>
  );
}
